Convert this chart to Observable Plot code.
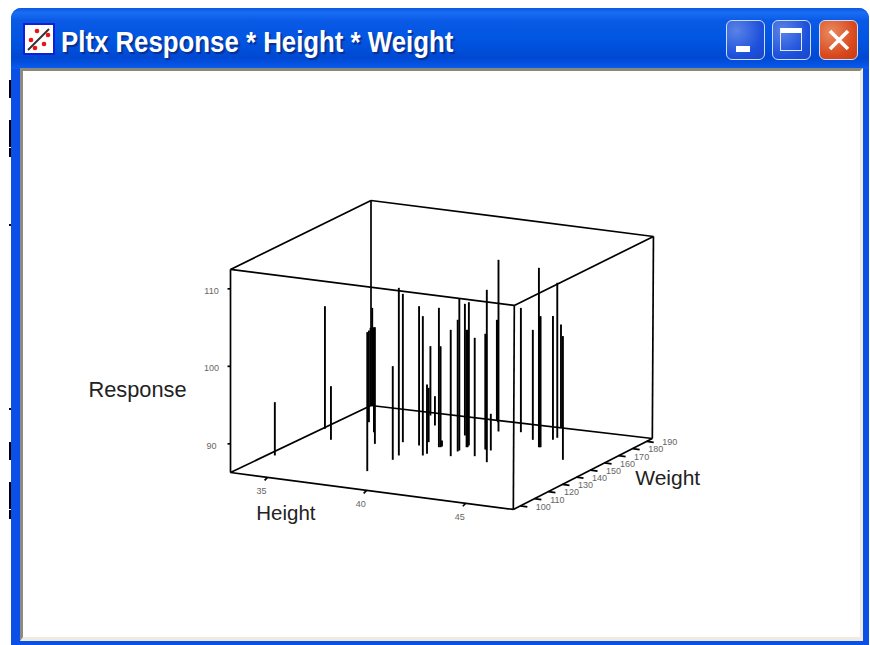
<!DOCTYPE html>
<html><head><meta charset="utf-8">
<script src="https://cdn.jsdelivr.net/npm/d3@7"></script>
<script src="https://cdn.jsdelivr.net/npm/@observablehq/plot@0.6"></script>
<style>
html,body{margin:0;padding:0;background:#fff;width:870px;height:645px;overflow:hidden}
#page{position:relative;width:870px;height:645px;overflow:hidden}
.abs{position:absolute}
#win{left:11px;top:8px;width:858px;height:650px;border-radius:10px 10px 0 0;background:#0a4fe6}
#bar{left:11px;top:8px;width:858px;height:61px;border-radius:10px 10px 0 0;
 background:linear-gradient(180deg,#0a5ae0 0%,#1a6df5 8%,#0a5ae6 20%,#0055e0 55%,#0048d2 82%,#0a5cf0 100%)}
#client{left:20px;top:68px;width:843px;height:573px;background:#fff;box-sizing:border-box;
 border-top:3px solid #8b8877;border-left:3px solid #8d8c84;border-right:3px solid #efebe0;border-bottom:4px solid #efebe0}
#title{left:61px;top:22px;font:bold 30px "Liberation Sans",sans-serif;color:#fff;
 text-shadow:2px 2px 1px #0a2f90;white-space:nowrap;transform-origin:0 50%;transform:scaleX(0.86);line-height:40px}
.btn{top:20px;width:39px;height:40px;box-sizing:border-box;border:1.5px solid #cfdcf5;border-radius:6px;
 background:radial-gradient(circle at 25% 25%,#5a83e6,#1c50dc 65%,#1a46c8)}
.btn.close{background:radial-gradient(circle at 30% 30%,#ea8a60,#d8481c 65%,#c23c14)}
.blk{left:9px;width:2px;background:#000}
#plotwrap{left:22px;top:70px;width:840px;height:570px}
#plotwrap svg{display:block;background:transparent;overflow:visible}
</style></head>
<body>
<div id="page">
 <div class="abs" id="win"></div>
 <div class="abs" id="bar"></div>
 <div class="abs" id="client"></div>
 <div class="abs blk" style="top:80px;height:18px"></div>
 <div class="abs blk" style="top:120px;height:27px"></div>
 <div class="abs blk" style="top:148px;height:9px"></div>
 <div class="abs blk" style="top:224px;height:2px"></div>
 <div class="abs blk" style="top:408px;height:2px"></div>
 <div class="abs blk" style="top:442px;height:18px"></div>
 <div class="abs blk" style="top:482px;height:27px"></div>
 <div class="abs blk" style="top:510px;height:9px"></div>
 <svg class="abs" style="left:23px;top:23px" width="32" height="32" viewBox="0 0 32 32">
  <rect x="1" y="1" width="30" height="30" fill="#fff" stroke="#1020d8" stroke-width="2"/>
  <line x1="5" y1="27" x2="26" y2="6" stroke="#333" stroke-width="2"/>
  <g fill="#ee1111"><circle cx="14" cy="8" r="2.3"/><circle cx="25" cy="12" r="2.3"/><circle cx="8" cy="17" r="2.3"/><circle cx="21" cy="21" r="2.3"/><circle cx="12" cy="25" r="2.3"/></g>
 </svg>
 <div class="abs" id="title">Pltx Response * Height * Weight</div>
 <div class="abs btn" style="left:726px"><div class="abs" style="left:9px;top:25px;width:14px;height:6px;background:#fff"></div></div>
 <div class="abs btn" style="left:772px"><div class="abs" style="left:7px;top:7px;width:22px;height:23px;box-sizing:border-box;border:1.5px solid #dfe8fa;border-top:5px solid #fff"></div></div>
 <div class="abs btn close" style="left:819px"><svg class="abs" style="left:8px;top:8px" width="22" height="22"><path d="M2 2L20 20M20 2L2 20" stroke="#fff" stroke-width="3.6"/></svg></div>
 <div class="abs" id="plotwrap"></div>
</div>
<script>
// Drop-line data
const heights = [33.61,33.58,34.67,38.55,34.85,33.63,33.70,35.82,36.76,38.71,38.62,37.76,38.67,39.59,39.63,38.80,36.82,37.77,39.60,39.67,39.67,40.77,40.69,40.68,39.75,40.72,40.76,40.68,41.74,41.65,41.69,42.69,41.95,39.89,40.06,40.80,41.76,42.83,43.64,43.71,43.67,43.64,43.66,42.99,45.58];
const weights = [119.8,155.9,144.8,115.9,169.3,187.7,187.9,159.2,146.6,131.8,137.4,152.4,151.1,140.8,143.2,156.1,185.3,175.1,152.1,152.3,153.3,144.0,150.1,151.4,168.5,156.0,156.2,158.2,147.4,156.2,156.3,142.6,155.9,189.3,187.6,177.6,180.0,173.4,166.3,166.5,166.4,176.3,179.1,191.2,156.0];
const responses = [93.18,102.12,93.22,104.24,98.13,96.32,98.90,99.85,101.35,98.39,107.93,105.44,104.28,104.28,95.25,93.31,95.25,90.08,104.28,99.33,87.07,102.60,103.29,105.87,103.29,101.44,101.44,104.79,101.57,101.22,101.22,108.54,91.03,99.29,99.50,108.45,102.34,100.49,109.44,103.20,103.20,102.26,106.30,99.55,102.26];

// Axis ranges and ticks
const heightRange = [33.13,47.4];
const weightRange = [95,194];
const responseRange = [86.3,112.5];
const heightTicks = [35,40,45];
const weightTicks = [100,110,120,130,140,150,160,170,180,190];
const responseTicks = [90,100,110];

// Box corners in data units (the drawn box has slight perspective): height, weight, response
const cornerE = [33.13,95,86.3],    cornerA = [33.13,95,112.5];
const cornerH = [47.4,95,86.3],     cornerD = [47.4,95.7,112.56];
const cornerF = [33.13,195.07,85.43], cornerB = [33.13,195.07,111.88];
const cornerG = [47.4,194,86.04],   cornerC = [47.4,194.8,112.03];

// Oblique 3-D projection onto the page
const origin = [230,472];
const hStep = [19.82,2.59], wStep = [1.404,-0.737], rStep = 7.75;
const px = (h,w) => origin[0] + (h-heightRange[0])*hStep[0] + (w-weightRange[0])*wStep[0];
const py = (h,w,r) => origin[1] + (h-heightRange[0])*hStep[1] + (w-weightRange[0])*wStep[1] - (r-responseRange[0])*rStep;

const [h0,h1] = heightRange, [w0,w1] = weightRange, [r0] = responseRange;
const edges = [
 [cornerE,cornerH],[cornerF,cornerG],[cornerA,cornerD],[cornerB,cornerC],
 [cornerE,cornerF],[cornerH,cornerG],[cornerA,cornerB],[cornerD,cornerC],
 [cornerE,cornerA],[cornerH,cornerD],[cornerF,cornerB],[cornerG,cornerC]
];
const drops = heights.map((h,i)=>({h,w:weights[i],r:responses[i]}));
const link = (data,o)=>Plot.link(data,{stroke:"#000",strokeWidth:1.7,...o});
// the right floor edge drops slightly towards its far corner
const rightFloor = w => r0 + (cornerG[2]-r0)*(w-w0)/(w1-w0);

const chart = Plot.plot({
 width:840,height:570,margin:0,
 x:{domain:[22,862],range:[0,840],axis:null},
 y:{domain:[70,640],range:[0,570],axis:null},
 style:{fontFamily:"'Liberation Sans',Arial,sans-serif",background:"transparent"},
 marks:[
  link(edges,{x1:e=>px(e[0][0],e[0][1]),y1:e=>py(...e[0]),x2:e=>px(e[1][0],e[1][1]),y2:e=>py(...e[1])}),
  link(drops,{x1:d=>px(d.h,d.w),x2:d=>px(d.h,d.w),y1:d=>py(d.h,d.w,r0),y2:d=>py(d.h,d.w,d.r),strokeWidth:1.9}),
  // ticks
  link(heightTicks,{x1:h=>px(h,w0),y1:h=>py(h,w0,r0),x2:h=>px(h,w0)-3,y2:h=>py(h,w0,r0)+3}),
  link(weightTicks,{x1:w=>px(h1,w),y1:w=>py(h1,w,rightFloor(w)),x2:w=>px(h1,w)+7,y2:w=>py(h1,w,rightFloor(w))+1}),
  link(responseTicks,{x1:()=>px(h0,w0),y1:r=>py(h0,w0,r),x2:()=>px(h0,w0)-3,y2:r=>py(h0,w0,r)}),
  // tick labels
  Plot.text(heightTicks,{x:h=>px(h,w0),y:h=>py(h,w0,r0),text:d=>String(d),dx:-6,dy:14,fontSize:9,fill:"#666"}),
  Plot.text(weightTicks,{x:w=>px(h1,w),y:w=>py(h1,w,rightFloor(w)),text:d=>String(d),dx:23,dy:1,fontSize:9,fill:"#666"}),
  Plot.text(responseTicks,{x:()=>px(h0,w0),y:r=>py(h0,w0,r),text:d=>String(d),dx:-19,dy:2,fontSize:9,fill:"#666"}),
  // axis titles
  Plot.text(["Response"],{x:()=>px(h0,w0),y:()=>py(h0,w0,96.9),text:d=>d,dx:-93,fontSize:21.8,fill:"#222"}),
  Plot.text(["Height"],{x:()=>px(36,w0),y:()=>py(36,w0,r0),text:d=>d,dx:-1.5,dy:34,fontSize:20.5,fill:"#222"}),
  Plot.text(["Weight"],{x:()=>px(h1,190),y:()=>py(h1,190,r0),text:d=>d,dx:21,dy:39,fontSize:21,fill:"#222"})
 ]
});
document.getElementById("plotwrap").appendChild(chart);
</script>
</body></html>
